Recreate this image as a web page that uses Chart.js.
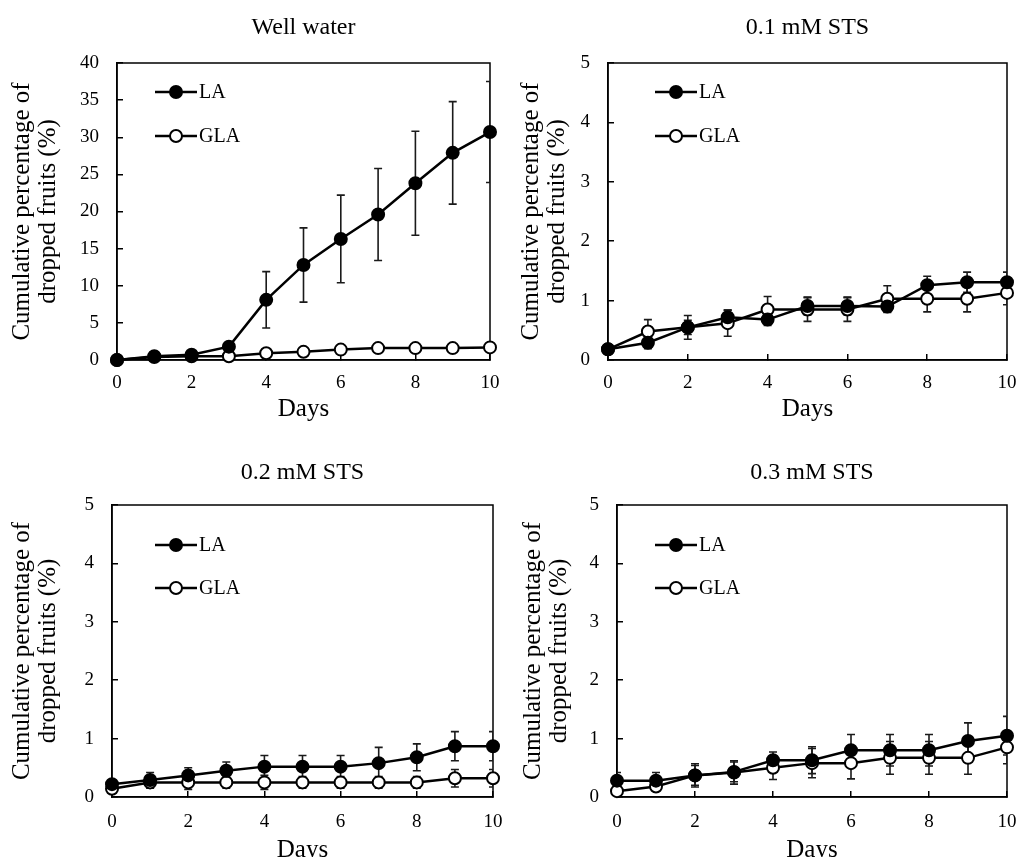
<!DOCTYPE html>
<html>
<head>
<meta charset="utf-8">
<script src="https://cdn.jsdelivr.net/npm/chart.js@4.4.1/dist/chart.umd.min.js"></script>
<style>
html,body{margin:0;padding:0;background:#fff;overflow:hidden;width:1018px;height:857px;}
canvas{position:absolute;}
</style>
</head>
<body>
<canvas id="c1" width="509" height="425" style="left:0;top:0"></canvas>
<canvas id="c2" width="509" height="425" style="left:509px;top:0"></canvas>
<canvas id="c3" width="509" height="445" style="left:0;top:425px"></canvas>
<canvas id="c4" width="509" height="445" style="left:509px;top:425px"></canvas>
<script>
// values (mean and +/- error per day)
const days = [0,1,2,3,4,5,6,7,8,9,10];
const seriesNames = ['LA','GLA'];
const panelTitles = ['Well water','0.1 mM STS','0.2 mM STS','0.3 mM STS'];
const yMaxes = [40,5,5,5];
const ySteps = [5,1,1,1];
const xStep = 2;
const xLabel = 'Days';
const yLabel = ['Cumulative percentage of','dropped fruits (%)'];

const wellLA     = [0,0.5,0.7,1.8,8.1,12.8,16.3,19.6,23.8,27.9,30.7];
const wellLAErr  = [0,0.2,0.3,0.5,3.8,5.0,5.9,6.2,7.0,6.9,6.8];
const wellGLA    = [0,0.4,0.5,0.5,0.9,1.1,1.4,1.6,1.6,1.6,1.7];
const wellGLAErr = [0,0.2,0.2,0.2,0.3,0.3,0.3,0.3,0.3,0.3,0.3];

const sts1LA     = [0.18,0.29,0.55,0.72,0.68,0.91,0.91,0.9,1.26,1.31,1.31];
const sts1LAErr  = [0.05,0.1,0.12,0.12,0.1,0.15,0.15,0.1,0.15,0.17,0.17];
const sts1GLA    = [0.18,0.48,0.55,0.62,0.85,0.85,0.85,1.03,1.03,1.03,1.13];
const sts1GLAErr = [0.05,0.2,0.2,0.22,0.22,0.2,0.2,0.22,0.22,0.22,0.2];

const sts2LA     = [0.22,0.29,0.37,0.45,0.52,0.52,0.52,0.58,0.68,0.87,0.87];
const sts2LAErr  = [0.05,0.13,0.13,0.15,0.19,0.19,0.19,0.27,0.23,0.25,0.25];
const sts2GLA    = [0.14,0.25,0.25,0.25,0.25,0.25,0.25,0.25,0.25,0.32,0.32];
const sts2GLAErr = [0.05,0.1,0.12,0.1,0.12,0.1,0.1,0.1,0.1,0.15,0.15];

const sts3LA     = [0.28,0.28,0.37,0.43,0.63,0.63,0.8,0.8,0.8,0.96,1.05];
const sts3LAErr  = [0.14,0.14,0.17,0.17,0.14,0.23,0.27,0.27,0.27,0.31,0.33];
const sts3GLA    = [0.1,0.18,0.37,0.42,0.5,0.58,0.58,0.67,0.67,0.67,0.85];
const sts3GLAErr = [0.05,0.05,0.2,0.2,0.2,0.25,0.27,0.28,0.28,0.28,0.28];

const FONT = '"Liberation Serif", "Times New Roman", serif';

// frame around plot + error bars, drawn under the markers
const frameAndErrors = {
  id: 'frameAndErrors',
  beforeDatasetsDraw(chart) {
    const {ctx, chartArea: a, scales: {x, y}} = chart;
    ctx.save();
    ctx.strokeStyle = '#000'; ctx.lineWidth = 1.5;
    ctx.strokeRect(a.left, a.top, a.right - a.left, a.bottom - a.top);
    ctx.beginPath(); ctx.rect(a.left, a.top, a.right - a.left, a.bottom - a.top); ctx.clip();
    ctx.strokeStyle = '#1a1a1a'; ctx.lineWidth = 1.6;
    chart.data.datasets.forEach(ds => {
      ds.data.forEach((p, i) => {
        const e = ds.errors[i]; if (!e) return;
        const px = x.getPixelForValue(p.x);
        const t = y.getPixelForValue(p.y + e), b = y.getPixelForValue(p.y - e);
        ctx.beginPath();
        ctx.moveTo(px, t); ctx.lineTo(px, b);
        ctx.moveTo(px - 4, t); ctx.lineTo(px + 4, t);
        ctx.moveTo(px - 4, b); ctx.lineTo(px + 4, b);
        ctx.stroke();
      });
    });
    ctx.restore();
  }
};

// legend inside the plot, line with marker then label
const insetLegend = {
  id: 'insetLegend',
  afterDraw(chart, args, opts) {
    const {ctx, chartArea: a} = chart;
    ctx.save();
    chart.data.datasets.forEach((ds, i) => {
      const x0 = a.left + opts.dx, y0 = a.top + opts.dy + i * opts.gap;
      ctx.strokeStyle = '#000'; ctx.lineWidth = 2.5;
      ctx.beginPath(); ctx.moveTo(x0, y0); ctx.lineTo(x0 + 42, y0); ctx.stroke();
      ctx.beginPath(); ctx.arc(x0 + 21, y0, 6, 0, Math.PI * 2);
      ctx.fillStyle = ds.pointBackgroundColor; ctx.fill();
      ctx.lineWidth = 2; ctx.stroke();
      ctx.fillStyle = '#000'; ctx.font = '20px ' + FONT; ctx.textBaseline = 'middle';
      ctx.fillText(ds.label, x0 + 44, y0 + 1);
    });
    ctx.restore();
  }
};

function series(label, vals, errs, fill) {
  return {
    label,
    data: days.map((d, i) => ({x: d, y: vals[i]})),
    errors: errs,
    borderColor: '#000', borderWidth: 2.5,
    pointRadius: 6, pointBorderWidth: 2, pointBorderColor: '#000',
    pointBackgroundColor: fill, tension: 0, clip: false
  };
}

function makeChart(id, idx, la, laErr, gla, glaErr, L) {
  new Chart(document.getElementById(id), {
    type: 'line',
    data: {datasets: [series(seriesNames[0], la, laErr, '#000'), series(seriesNames[1], gla, glaErr, '#fff')]},
    options: {
      responsive: false, animation: false, devicePixelRatio: 1,
      layout: {padding: {left: 0, right: L.padRight, top: 0, bottom: 0}},
      plugins: {
        legend: {display: false}, tooltip: {enabled: false},
        title: {display: true, text: panelTitles[idx], fullSize: false, color: '#000',
          font: {family: FONT, size: 24, weight: 'normal', lineHeight: 1.2},
          padding: {top: L.titleTop, bottom: L.titleBottom}},
        insetLegend: {dx: L.legX, dy: L.legY, gap: L.legGap}
      },
      scales: {
        x: {
          type: 'linear', min: 0, max: 10,
          afterFit: s => { s.height = L.xHeight; s.paddingLeft = 0; s.paddingRight = 0; },
          ticks: {stepSize: xStep, color: '#000', padding: L.xTickPad, maxRotation: 0,
            font: {family: FONT, size: 19}},
          grid: {drawOnChartArea: false, drawTicks: true, tickLength: -6, color: '#000', lineWidth: 1.5},
          border: {display: true, color: '#000', width: 1.5},
          title: {display: true, text: xLabel, color: '#000', padding: {top: 0, bottom: L.daysPad},
            font: {family: FONT, size: 25, lineHeight: 1.04}}
        },
        y: {
          min: 0, max: yMaxes[idx],
          afterFit: s => { s.width = L.yWidth; s.paddingTop = 0; s.paddingBottom = 0; },
          ticks: {stepSize: ySteps[idx], color: '#000', padding: 24, font: {family: FONT, size: 19}},
          grid: {drawOnChartArea: false, drawTicks: true, tickLength: -6, color: '#000', lineWidth: 1.5},
          border: {display: true, color: '#000', width: 1.5},
          title: {display: true, text: yLabel, color: '#000', padding: {top: L.yTitlePad, bottom: 0},
            font: {family: FONT, size: 25, lineHeight: 1.05}}
        }
      }
    },
    plugins: [frameAndErrors, insetLegend]
  });
}

makeChart('c1', 0, wellLA, wellLAErr, wellGLA, wellGLAErr,
  {padRight: 19, yWidth: 117, xHeight: 65, titleTop: 13.6, titleBottom: 20.6, xTickPad: 17.6, daysPad: 3, yTitlePad: 9, legX: 38, legY: 29, legGap: 44});
makeChart('c2', 1, sts1LA, sts1LAErr, sts1GLA, sts1GLAErr,
  {padRight: 11, yWidth: 99, xHeight: 65, titleTop: 13.6, titleBottom: 20.6, xTickPad: 17.6, daysPad: 3, yTitlePad: 9, legX: 47, legY: 29, legGap: 44});
makeChart('c3', 2, sts2LA, sts2LAErr, sts2GLA, sts2GLAErr,
  {padRight: 16, yWidth: 112, xHeight: 73, titleTop: 33.6, titleBottom: 17.6, xTickPad: 19.3, daysPad: 7, yTitlePad: 9, legX: 43, legY: 40, legGap: 43});
makeChart('c4', 3, sts3LA, sts3LAErr, sts3GLA, sts3GLAErr,
  {padRight: 11, yWidth: 108, xHeight: 73, titleTop: 33.6, titleBottom: 17.6, xTickPad: 19.3, daysPad: 7, yTitlePad: 11, legX: 38, legY: 40, legGap: 43});
</script>
</body>
</html>
